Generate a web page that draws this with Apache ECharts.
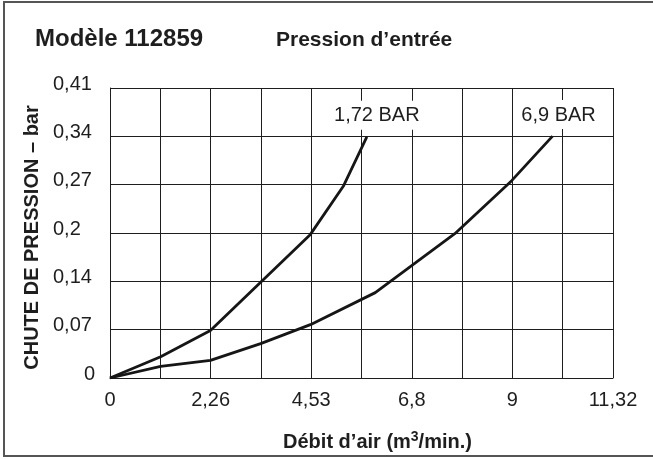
<!DOCTYPE html>
<html>
<head>
<meta charset="utf-8">
<script src="https://cdn.jsdelivr.net/npm/echarts@6/dist/echarts.min.js"></script>
<style>
html,body{margin:0;padding:0;background:#fff;}
#chart{width:653px;height:459px;}
</style>
</head>
<body>
<div id="chart"></div>
<script>
// ---- data ----
const xTickLabels = ['0', '2,26', '4,53', '6,8', '9', '11,32'];
const yTickLabels = ['0', '0,07', '0,14', '0,2', '0,27', '0,34', '0,41'];
const seriesNames = ['1,72 BAR', '6,9 BAR'];
// 1,72 BAR curve: air flow (m3/min) and pressure drop (bar)
const flowLow = [0, 1.14, 2.26, 4.51, 5.25, 5.78];
const dropLow = [0, 0.030, 0.067, 0.203, 0.271, 0.341];
// 6,9 BAR curve
const flowHigh = [0, 1.14, 2.26, 3.39, 4.51, 5.97, 7.76, 9.04, 9.96];
const dropHigh = [0, 0.0165, 0.025, 0.0486, 0.0754, 0.1207, 0.204, 0.279, 0.342];
const xMax = 11.32;
const yMax = 0.41;

const FONT = '"Liberation Sans", Arial, Helvetica, sans-serif';
const INK = '#1e1e1e';

const chart = echarts.init(document.getElementById('chart'), null, {renderer: 'canvas'});

function buildSeries(name, xs, ys, offsetX) {
  const data = xs.map((x, i) => [x, ys[i]]);
  const last = data[data.length - 1];
  return {
    name: name,
    type: 'line',
    data: data,
    showSymbol: false,
    smooth: false,
    lineStyle: {color: '#161616', width: 2.8},
    animation: false,
    markPoint: {
      symbol: 'circle',
      symbolSize: 0,
      animation: false,
      data: [{coord: last, value: name}],
      label: {
        show: true,
        formatter: name,
        position: 'top',
        distance: 7,
        offset: [offsetX, 0],
        color: INK,
        fontFamily: FONT,
        fontSize: 20,
        lineHeight: 20,
        backgroundColor: '#fff',
        padding: [5, 5, 4, 5]
      }
    }
  };
}

const xStep = xMax / 10;
const yStep = yMax / 6;

chart.setOption({
  animation: false,
  backgroundColor: '#fff',
  title: [
    {text: 'Modèle 112859', left: 35, top: 27, padding: 0,
     textStyle: {fontFamily: FONT, fontSize: 24, fontWeight: 'bold', color: INK}},
    {text: 'Pression d’entrée', left: 276, top: 30, padding: 0,
     textStyle: {fontFamily: FONT, fontSize: 21, fontWeight: 'bold', color: INK}}
  ],
  graphic: [{
    type: 'rect',
    shape: {x: 4, y: 2, width: 700, height: 454},
    style: {fill: 'none', stroke: '#555', lineWidth: 2},
    silent: true, z: 100
  }],
  grid: {left: 110, top: 88, width: 503, height: 290, show: false, containLabel: false},
  xAxis: {
    type: 'value', min: 0, max: xMax, interval: xStep,
    name: '{m|Débit d’air (m}{s|3}{m|/min.)}',
    nameLocation: 'middle', nameGap: 52,
    nameTextStyle: {
      padding: [0, 0, 0, 32],
      rich: {
        m: {fontFamily: FONT, fontSize: 20, fontWeight: 'bold', color: INK, lineHeight: 22, verticalAlign: 'bottom'},
        s: {fontFamily: FONT, fontSize: 14, fontWeight: 'bold', color: INK, lineHeight: 14, verticalAlign: 'top'}
      }
    },
    axisLine: {show: true, lineStyle: {color: INK, width: 1}},
    axisTick: {show: false},
    splitLine: {show: true, lineStyle: {color: INK, width: 1}},
    axisLabel: {
      margin: 12, fontFamily: FONT, fontSize: 20, color: INK,
      showMinLabel: true, showMaxLabel: true, hideOverlap: false,
      formatter: function (v) {
        const i = Math.round(v / xStep);
        if (i % 2 !== 0) return '';
        return xTickLabels[i / 2];
      }
    }
  },
  yAxis: {
    type: 'value', min: 0, max: yMax, interval: yStep,
    name: 'CHUTE DE PRESSION – bar',
    nameLocation: 'middle', nameRotate: 90, nameGap: 68,
    nameTextStyle: {fontFamily: FONT, fontSize: 20, fontWeight: 'bold', color: INK, padding: [0, 9, 0, 0]},
    axisLine: {show: true, lineStyle: {color: INK, width: 1}},
    axisTick: {show: false},
    splitLine: {show: true, lineStyle: {color: INK, width: 1}},
    axisLabel: {
      margin: 57, align: 'left', fontFamily: FONT, fontSize: 20, color: INK,
      padding: [0, 0, 8, 0],
      showMinLabel: true, showMaxLabel: true,
      formatter: function (v) {
        const i = Math.round(v / yStep);
        const t = yTickLabels[i];
        if (i === 0) return '{z|' + t + '}';
        return t;
      },
      rich: {z: {fontFamily: FONT, fontSize: 20, color: INK, padding: [0, 0, 0, 31]}}
    }
  },
  series: [
    buildSeries(seriesNames[0], flowLow, dropLow, 10),
    buildSeries(seriesNames[1], flowHigh, dropHigh, 6)
  ]
});
</script>
</body>
</html>
